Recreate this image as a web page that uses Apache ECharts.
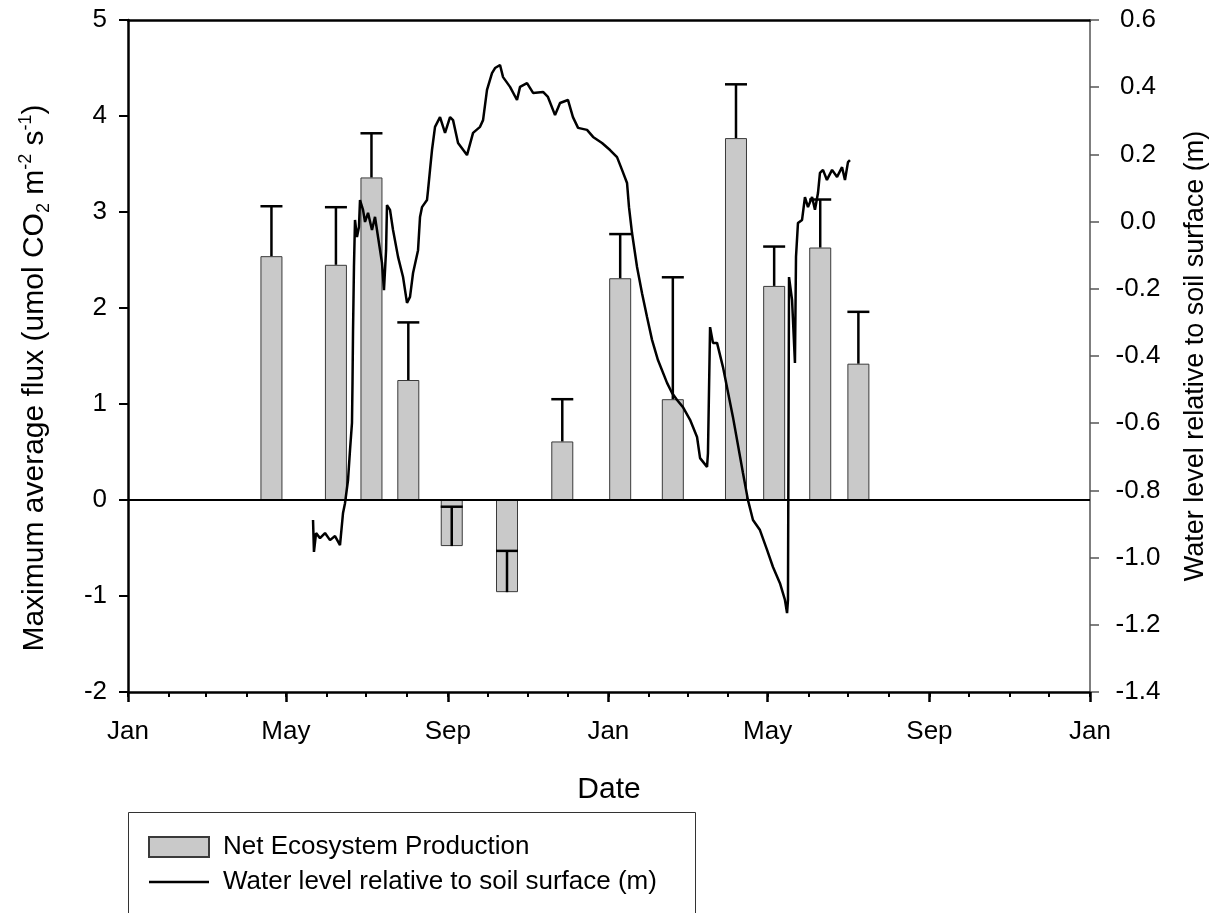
<!DOCTYPE html>
<html>
<head>
<meta charset="utf-8">
<title>Net ecosystem production and water level</title>
<script src="https://cdn.jsdelivr.net/npm/echarts@6/dist/echarts.min.js"></script>
<style>
  html, body { margin: 0; padding: 0; background: #fff; }
  #chart { width: 1215px; height: 913px; }
</style>
</head>
<body>
<div id="chart"></div>
<script>
// Record window (two calendar years)
const recordStart = '2011-01-01';
const recordEnd = '2013-01-01';

// Labelled (major) date ticks
const majorTickDates = ['2011-01-01', '2011-05-01', '2011-09-01', '2012-01-01', '2012-05-01', '2012-09-01', '2013-01-01'];
const majorTickLabels = ['Jan', 'May', 'Sep', 'Jan', 'May', 'Sep', 'Jan'];

// Flux campaigns: maximum average NEP (umol CO2 m-2 s-1) and standard error
const campaignDates = ['2011-04-20', '2011-06-08', '2011-07-05', '2011-08-02', '2011-09-04', '2011-10-16', '2011-11-27',
                       '2012-01-10', '2012-02-19', '2012-04-07', '2012-05-06', '2012-06-10', '2012-07-09'];
const nepMean = [2.54, 2.45, 3.36, 1.25, -0.48, -0.96, 0.61, 2.31, 1.05, 3.77, 2.23, 2.63, 1.42];
const nepSE   = [0.52, 0.60, 0.46, 0.60, 0.41, 0.43, 0.44, 0.46, 1.27, 0.56, 0.41, 0.50, 0.54];

// Water table record: day of record (days since recordStart) and level relative to soil surface (m)
const waterDay = [
  140.6, 141.3, 142.9, 145.9, 149.7, 153.5, 157.3, 161.1, 163.4, 164.9,
  167.2, 168.7, 170.2, 170.6, 171.0, 171.7, 172.5, 174.0, 175.5, 176.3,
  178.6, 180.1, 182.4, 185.4, 187.7, 190.0, 193.0, 194.5, 196.1, 196.8,
  199.1, 201.4, 205.2, 209.0, 212.0, 214.3, 216.6, 220.4, 221.9, 223.4,
  227.2, 228.0, 229.5, 231.0, 233.3, 237.1, 240.9, 244.7, 247.0, 250.8,
  257.6, 262.2, 267.5, 269.8, 272.8, 276.6, 278.9, 282.7, 285.0, 290.3,
  295.6, 297.9, 303.2, 307.8, 315.4, 319.1, 324.5, 328.3, 334.3, 338.1,
  342.0, 348.8, 353.4, 360.2, 366.3, 371.6, 375.4, 379.2, 380.7, 383.0,
  386.8, 390.6, 394.4, 398.2, 402.7, 409.6, 413.4, 417.2, 421.7, 427.1,
  432.4, 434.7, 440.0, 440.7, 442.3, 444.5, 447.6, 452.1, 459.7, 467.3,
  471.1, 474.9, 480.2, 485.6, 490.1, 495.4, 499.2, 500.8, 501.5, 502.3,
  504.6, 506.8, 507.6, 509.1, 512.2, 514.4, 516.7, 519.8, 522.0, 524.3,
  525.8, 528.1, 531.1, 535.0, 538.8, 542.6, 544.8, 547.1, 548.6
];
const waterLevel = [
  -0.888, -0.983, -0.927, -0.942, -0.927, -0.948, -0.936, -0.963, -0.867, -0.838,
  -0.769, -0.680, -0.599, -0.480, -0.323, -0.135, 0.005, -0.046, -0.016, 0.064,
  0.035, -0.001, 0.026, -0.025, 0.014, -0.046, -0.123, -0.204, -0.085, 0.049,
  0.035, -0.025, -0.105, -0.165, -0.242, -0.224, -0.153, -0.085, 0.014, 0.043,
  0.064, 0.094, 0.154, 0.213, 0.282, 0.311, 0.264, 0.311, 0.302, 0.234,
  0.198, 0.264, 0.282, 0.302, 0.392, 0.442, 0.457, 0.466, 0.430, 0.401,
  0.362, 0.401, 0.412, 0.383, 0.386, 0.371, 0.317, 0.353, 0.362, 0.311,
  0.279, 0.273, 0.252, 0.234, 0.213, 0.192, 0.154, 0.115, 0.043, -0.034,
  -0.135, -0.213, -0.284, -0.352, -0.412, -0.480, -0.510, -0.531, -0.552, -0.590,
  -0.641, -0.704, -0.730, -0.689, -0.314, -0.361, -0.361, -0.433, -0.582, -0.748,
  -0.829, -0.888, -0.918, -0.977, -1.028, -1.076, -1.126, -1.165, -1.126, -0.165,
  -0.233, -0.421, -0.105, -0.004, 0.005, 0.073, 0.043, 0.073, 0.035, 0.085,
  0.145, 0.154, 0.124, 0.154, 0.133, 0.162, 0.124, 0.177, 0.183
];

const FONT = '"Liberation Sans", Arial, sans-serif';

// Days elapsed since the start of the record
function dayOf(dateStr) {
  const p = dateStr.split('-').map(Number);
  const s = recordStart.split('-').map(Number);
  return (Date.UTC(p[0], p[1] - 1, p[2]) - Date.UTC(s[0], s[1] - 1, s[2])) / 86400000;
}

const xMax = dayOf(recordEnd);

// First day of every month in the record, for the short date ticks
const monthTickDays = [];
{
  const s = recordStart.split('-').map(Number);
  const e = recordEnd.split('-').map(Number);
  let y = s[0], m = s[1];
  while (y < e[0] || (y === e[0] && m <= e[1])) {
    monthTickDays.push(dayOf(y + '-' + String(m).padStart(2, '0') + '-01'));
    m++; if (m > 12) { m = 1; y++; }
  }
}
const majorTickDays = majorTickDates.map(dayOf);
const majorLabelByDay = {};
majorTickDays.forEach((d, i) => { majorLabelByDay[d] = majorTickLabels[i]; });

const barData = campaignDates.map((d, i) => [dayOf(d), nepMean[i]]);
const errData = campaignDates.map((d, i) => [dayOf(d), nepMean[i], nepSE[i]]);
const waterData = waterDay.map((d, i) => [d, waterLevel[i]]);

const chart = echarts.init(document.getElementById('chart'), null, { renderer: 'canvas' });

chart.setOption({
  animation: false,
  backgroundColor: '#ffffff',
  textStyle: { fontFamily: FONT, color: '#000' },
  grid: { left: 128, right: 125, top: 20, bottom: 221, containLabel: false, outerBoundsMode: 'none' },
  legend: {
    orient: 'vertical',
    left: 148,
    top: 832,
    padding: 0,
    itemWidth: 60,
    itemHeight: 20,
    itemGap: 5,
    selectedMode: false,
    symbolKeepAspect: true,
    textStyle: { fontFamily: FONT, fontSize: 26, lineHeight: 30, color: '#000', padding: [0, 0, 0, 9] },
    data: [
      { name: 'Net Ecosystem Production', icon: 'rect' },
      // plain line swatch, no marker
      { name: 'Water level relative to soil surface (m)', icon: 'path://M0,0L60,0L60,2.5L0,2.5Z' }
    ]
  },
  graphic: [
    {
      type: 'rect',
      silent: true,
      shape: { x: 128.5, y: 812.5, width: 567, height: 140 },
      style: { fill: 'none', stroke: '#333', lineWidth: 1 }
    }
  ],
  xAxis: [
    {
      // monthly short ticks and the axis line
      type: 'value',
      min: 0,
      max: xMax,
      position: 'bottom',
      axisLine: { show: true, onZero: false, lineStyle: { color: '#000', width: 2.5 } },
      axisTick: { show: true, customValues: monthTickDays, length: 5, lineStyle: { color: '#000', width: 2 } },
      axisLabel: { show: false },
      splitLine: { show: false }
    },
    {
      // labelled ticks
      type: 'value',
      min: 0,
      max: xMax,
      position: 'bottom',
      axisLine: { show: false, onZero: false },
      axisTick: { show: true, customValues: majorTickDays, length: 10, lineStyle: { color: '#000', width: 2.5 } },
      axisLabel: {
        show: true,
        customValues: majorTickDays,
        margin: 27,
        fontSize: 26,
        fontFamily: FONT,
        color: '#000',
        formatter: v => majorLabelByDay[Math.round(v)] || ''
      },
      splitLine: { show: false },
      name: 'Date',
      nameLocation: 'middle',
      nameGap: 83,
      nameTextStyle: { fontSize: 30, fontFamily: FONT, color: '#000' }
    },
    {
      // top frame line
      type: 'value',
      min: 0,
      max: xMax,
      position: 'top',
      axisLine: { show: true, onZero: false, lineStyle: { color: '#000', width: 2.5 } },
      axisTick: { show: false },
      axisLabel: { show: false },
      splitLine: { show: false }
    }
  ],
  yAxis: [
    {
      type: 'value',
      min: -2,
      max: 5,
      interval: 1,
      position: 'left',
      axisLine: { show: true, onZero: false, lineStyle: { color: '#000', width: 2.5 } },
      axisTick: { show: true, length: 9, lineStyle: { color: '#000', width: 2 } },
      axisLabel: { fontSize: 26, fontFamily: FONT, color: '#000', margin: 21 },
      splitLine: { show: false },
      name: 'Maximum average flux (umol CO{sub|2} m{sup|-2} s{sup|-1})',
      nameLocation: 'middle',
      nameGap: 75,
      nameTextStyle: {
        fontSize: 30,
        lineHeight: 36,
        fontFamily: FONT,
        color: '#000',
        padding: [0, 44, 0, 0],
        rich: {
          sub: { fontSize: 18, lineHeight: 17, verticalAlign: 'bottom', fontFamily: FONT, color: '#000' },
          sup: { fontSize: 18, lineHeight: 17, verticalAlign: 'top', fontFamily: FONT, color: '#000' }
        }
      }
    },
    {
      type: 'value',
      min: -1.4,
      max: 0.6,
      interval: 0.2,
      position: 'right',
      axisLine: { show: true, onZero: false, lineStyle: { color: '#555', width: 1.5 } },
      axisTick: { show: true, length: 9, lineStyle: { color: '#555', width: 1.5 } },
      axisLabel: {
        fontSize: 26,
        fontFamily: FONT,
        color: '#000',
        margin: 48,
        align: 'center',
        formatter: v => v.toFixed(1)
      },
      splitLine: { show: false },
      name: 'Water level relative to soil surface (m)',
      nameLocation: 'middle',
      nameRotate: 90,
      nameGap: 92,
      nameTextStyle: { fontSize: 27, fontFamily: FONT, color: '#000' }
    }
  ],
  series: [
    {
      name: 'Net Ecosystem Production',
      type: 'bar',
      xAxisIndex: 0,
      yAxisIndex: 0,
      barWidth: 22,
      data: barData,
      itemStyle: { color: '#c9c9c9', borderColor: '#3a3a3a', borderWidth: 1 },
      emphasis: { disabled: true },
      markLine: {
        silent: true,
        symbol: ['none', 'none'],
        label: { show: false },
        lineStyle: { color: '#000', width: 2, type: 'solid' },
        data: [{ yAxis: 0 }]
      }
    },
    {
      // standard error whiskers, drawn from each mean towards mean + SE
      name: 'NEP error',
      type: 'custom',
      xAxisIndex: 0,
      yAxisIndex: 0,
      data: errData,
      encode: { x: 0, y: 1 },
      z: 3,
      silent: true,
      renderItem: function (params, api) {
        const x = api.value(0);
        const v = api.value(1);
        const e = api.value(2);
        const p0 = api.coord([x, v]);
        const p1 = api.coord([x, v + e]);
        const half = 11;
        const style = { stroke: '#000', lineWidth: 2.5 };
        return {
          type: 'group',
          children: [
            { type: 'line', shape: { x1: p0[0], y1: p0[1], x2: p1[0], y2: p1[1] }, style: style },
            { type: 'line', shape: { x1: p1[0] - half, y1: p1[1], x2: p1[0] + half, y2: p1[1] }, style: style }
          ]
        };
      }
    },
    {
      name: 'Water level relative to soil surface (m)',
      type: 'line',
      xAxisIndex: 0,
      yAxisIndex: 1,
      data: waterData,
      showSymbol: false,
      symbol: 'none',
      z: 4,
      lineStyle: { color: '#000', width: 2.5 },
      itemStyle: { color: '#000' },
      emphasis: { disabled: true }
    }
  ]
});
</script>
</body>
</html>
